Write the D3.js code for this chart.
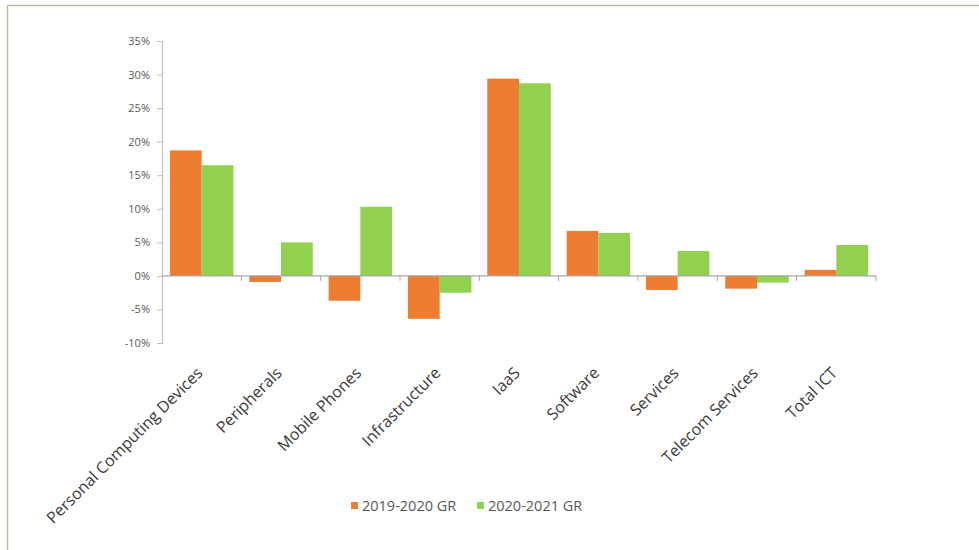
<!DOCTYPE html>
<html>
<head>
<meta charset="utf-8">
<script src="https://cdn.jsdelivr.net/npm/d3@7/dist/d3.min.js"></script>
<style>
  html, body { margin: 0; padding: 0; background: #ffffff; }
  svg { display: block; }
  text { font-family: "Open Sans", "Liberation Sans", sans-serif; }
</style>
</head>
<body>
<svg id="chart" width="979" height="550"></svg>
<script>
// ICT segment growth rates (%)
const categories = ["Personal Computing Devices", "Peripherals", "Mobile Phones", "Infrastructure",
  "IaaS", "Software", "Services", "Telecom Services", "Total ICT"];
const seriesNames = ["2019-2020 GR", "2020-2021 GR"];
const growth2019_2020 = [18.7, -0.9, -3.7, -6.4, 29.4, 6.7, -2.1, -1.9, 0.9];
const growth2020_2021 = [16.5, 5.0, 10.3, -2.5, 28.7, 6.4, 3.7, -1.0, 4.6];
const yTicks = [-10, -5, 0, 5, 10, 15, 20, 25, 30, 35];
const colors = ["#ED7D31", "#92D050"];

const svg = d3.select("#chart");

// outer frame (top and left rules)
svg.append("line").attr("x1", 7).attr("y1", 5.5).attr("x2", 979).attr("y2", 5.5)
  .attr("stroke", "#b3c3a0").attr("stroke-width", 1.5);
svg.append("line").attr("x1", 7.5).attr("y1", 5).attr("x2", 7.5).attr("y2", 550)
  .attr("stroke", "#b3c3a0").attr("stroke-width", 1.5);

const plot = { left: 162, right: 876, top: 41, bottom: 343 };

const x = d3.scaleBand().domain(categories).range([plot.left, plot.right]).paddingInner(0).paddingOuter(0);
const inner = d3.scaleBand().domain(seriesNames).range([0, x.bandwidth()]).paddingInner(0).paddingOuter(0.25);
const y = d3.scaleLinear().domain([-10, 35]).range([plot.bottom, plot.top]);

const rows = categories.map((c, i) => ({ cat: c, vals: [growth2019_2020[i], growth2020_2021[i]] }));

// bars
const groups = svg.append("g").selectAll("g").data(rows).join("g")
  .attr("transform", d => `translate(${x(d.cat)},0)`);
groups.selectAll("rect").data(d => d.vals.map((v, k) => ({ v, k })))
  .join("rect")
  .attr("x", d => inner(seriesNames[d.k]))
  .attr("width", inner.bandwidth())
  .attr("y", d => y(Math.max(0, d.v)))
  .attr("height", d => Math.abs(y(d.v) - y(0)))
  .attr("fill", d => colors[d.k]);

// y axis
const yAxis = d3.axisLeft(y).tickValues(yTicks).tickSize(5).tickPadding(7)
  .tickFormat(d => d + "%");
const gy = svg.append("g").attr("transform", `translate(${plot.left},0)`).call(yAxis);
gy.select(".domain").attr("stroke", "#bfbfbf").attr("stroke-width", 1.2);
gy.selectAll(".tick line").attr("stroke", "#bfbfbf");
gy.selectAll(".tick text").attr("fill", "#595959").style("font-size", "11px");

// x axis along zero line, with tick marks between categories
const gx = svg.append("g");
gx.append("line").attr("x1", plot.left).attr("x2", plot.right)
  .attr("y1", y(0)).attr("y2", y(0)).attr("stroke", "#a6a6a6").attr("stroke-width", 1.2);
gx.selectAll("line.tk").data(categories.slice(1).concat(["end"])).join("line")
  .attr("class", "tk")
  .attr("x1", (d, i) => plot.left + x.bandwidth() * (i + 1))
  .attr("x2", (d, i) => plot.left + x.bandwidth() * (i + 1))
  .attr("y1", y(0)).attr("y2", y(0) + 5)
  .attr("stroke", "#a6a6a6");

// category labels, rotated, placed below the plot area
svg.append("g").selectAll("text").data(categories).join("text")
  .attr("transform", d => `translate(${x(d) + x.bandwidth() / 2 + 2},${plot.bottom + 31}) rotate(-45)`)
  .attr("text-anchor", "end")
  .attr("fill", "#3a3a3a")
  .style("font-size", "16px")
  .text(d => d);

// legend
const legend = svg.append("g");
const legendX = [351, 477];
seriesNames.forEach((s, k) => {
  legend.append("rect").attr("x", legendX[k]).attr("y", 502).attr("width", 7).attr("height", 7)
    .attr("fill", colors[k]);
  legend.append("text").attr("x", legendX[k] + 11).attr("y", 511)
    .attr("fill", "#595959").style("font-size", "14.5px").text(s);
});
</script>
</body>
</html>
